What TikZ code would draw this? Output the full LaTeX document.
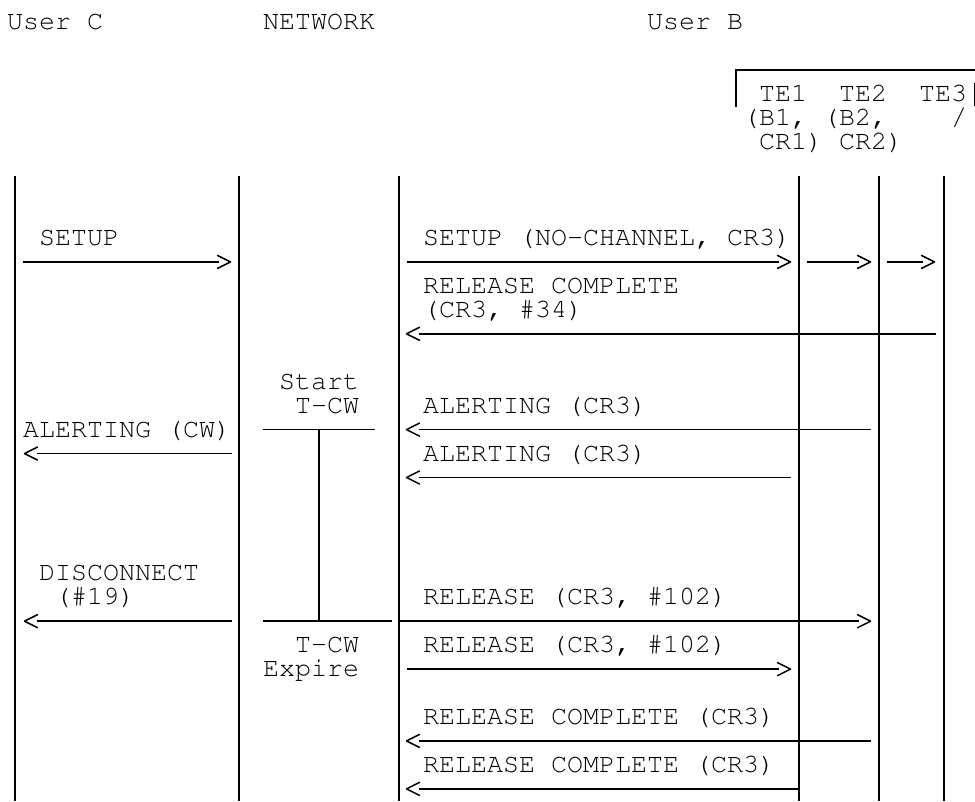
\documentclass[tikz,border=0pt]{standalone}
\usepackage[T1]{fontenc}
\usetikzlibrary{arrows.meta}
\pgfdeclarearrow{
  name = Chev,
  parameters = {\the\pgflinewidth},
  setup code = {
    \pgfarrowssettipend{0pt}
    \pgfarrowssetlineend{-12pt}
    \pgfarrowssetbackend{-13pt}
    \pgfarrowssetvisualbackend{-13pt}
    \pgfarrowshullpoint{0pt}{0pt}
    \pgfarrowshullpoint{-13pt}{6.5pt}
    \pgfarrowshullpoint{-13pt}{-6.5pt}
  },
  drawing code = {
    \pgfsetdash{}{0pt}
    \pgfsetroundjoin
    \pgfsetroundcap
    \pgfpathmoveto{\pgfqpoint{-13pt}{6.5pt}}
    \pgfpathlineto{\pgfqpoint{0pt}{0pt}}
    \pgfpathlineto{\pgfqpoint{-13pt}{-6.5pt}}
    \pgfusepathqstroke
  }
}
\newcommand\cfont{\fontfamily{pcr}\fontsize{26.67pt}{24pt}\selectfont}
\newcommand\msg[4]{%
  \coordinate (#1-s) at (#3,#2);
  \coordinate (#1-e) at (#4,#2);
  \draw[wire,-Chev] (#1-s) -- (#1-e);}
\begin{document}
\begin{tikzpicture}[x=1pt,y=-1pt,
  lbl/.style={anchor=base west,inner sep=0pt,font=\cfont},
  life/.style={line width=1.4pt},
  lifedots/.style={line width=2.4pt,dash pattern=on 1.5pt off 22.45pt,dash phase=7.95pt},
  wire/.style={line width=1.5pt},
  timer/.style={line width=1.5pt},
  brack/.style={line width=1.6pt}]
\useasboundingbox (0,0) rectangle (975,801);
% headers
\node[lbl] (userc) at (7,29.5) {User C};
\node[lbl] (network) at (263,29.5) {NETWORK};
\node[lbl] (userb) at (647,29.5) {User B};
% TE bracket
\coordinate (br-a) at (736,107);
\coordinate (br-b) at (736,70);
\coordinate (br-c) at (975,70);
\draw[brack] (br-a) -- (br-b) -- (br-c);
\coordinate (br-d) at (974.6,83);
\coordinate (br-e) at (974.6,106);
\draw[brack] (br-d) -- (br-e);
\node[lbl] (te1) at (759,101.8) {TE1};
\node[lbl] (te2) at (839,101.8) {TE2};
\node[lbl] (te3) at (919,101.8) {TE3};
\node[lbl] (b1) at (743,125.75) {(B1,};
\node[lbl] (b2) at (823,125.75) {(B2,};
\node[lbl] (sl) at (951,125.75) {/};
\node[lbl] (cr1) at (759,149.7) {CR1)};
\node[lbl] (cr2) at (839,149.7) {CR2)};
% lifelines
\foreach \n/\x in {C/15, NL/239, NR/399, T1/799, T2/879, T3/944}{
  \coordinate (\n-top) at (\x,176);
  \coordinate (\n-bot) at (\x,801);
  \draw[life] (\n-top) -- (\n-bot);
  \draw[lifedots] (\n-top) -- (\n-bot);
}
% labels
\node[lbl] (setupC) at (39,245.5) {SETUP};
\node[lbl] (setupB) at (423,245.5) {SETUP (NO-CHANNEL, CR3)};
\node[lbl] (rc1a) at (423,293.4) {RELEASE COMPLETE};
\node[lbl] (rc1b) at (423,317.35) {(CR3, \#34)};
\node[lbl] (start) at (279,389.2) {Start};
\node[lbl] (tcw1) at (295,413.15) {T-CW};
\node[lbl] (al1) at (423,413.15) {ALERTING (CR3)};
\node[lbl] (alcw) at (23,437.1) {ALERTING (CW)};
\node[lbl] (al2) at (423,461.05) {ALERTING (CR3)};
\node[lbl] (disc) at (39,580.8) {DISCONNECT};
\node[lbl] (n19) at (55,604.75) {(\#19)};
\node[lbl] (rel1) at (423,604.75) {RELEASE (CR3, \#102)};
\node[lbl] (tcw2) at (295,652.65) {T-CW};
\node[lbl] (rel2) at (423,652.65) {RELEASE (CR3, \#102)};
\node[lbl] (expire) at (263,676.6) {Expire};
\node[lbl] (rcc1) at (423,724.5) {RELEASE COMPLETE (CR3)};
\node[lbl] (rcc2) at (423,772.4) {RELEASE COMPLETE (CR3)};
% messages
\msg{m1}{261.95}{23}{230.5}
\msg{m2}{261.95}{407}{790.5}
\msg{m3}{261.95}{807}{870.5}
\msg{m4}{261.95}{887}{934.5}
\msg{m5}{333.8}{936}{406.5}
\msg{m6}{429.6}{871}{406.5}
\msg{m7}{453.55}{231.5}{24.5}
\msg{m8}{477.5}{791}{406.5}
\msg{m9}{621.2}{231.5}{24.5}
\msg{m10}{621.2}{400}{870.5}
\msg{m11}{669.1}{407}{790.5}
\msg{m12}{740.95}{871}{406.5}
\msg{m13}{788.85}{799}{406.5}
% timer
\coordinate (t-a) at (263,429.6);
\coordinate (t-b) at (375,429.6);
\coordinate (t-c) at (319,429.6);
\coordinate (t-d) at (319,621.2);
\coordinate (t-e) at (263,621.2);
\coordinate (t-f) at (392,621.2);
\draw[timer] (t-a) -- (t-b);
\draw[timer] (t-c) -- (t-d);
\draw[timer] (t-e) -- (t-f);
\end{tikzpicture}
\end{document}
